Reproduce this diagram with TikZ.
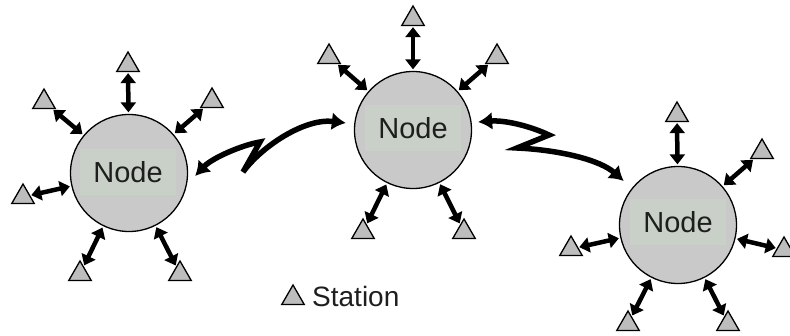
\documentclass[tikz,border=0pt]{standalone}
\usepackage{fontspec}
\setmainfont{Liberation Sans}
\usetikzlibrary{arrows.meta,shapes.geometric}

\definecolor{hubgray}{HTML}{C9C9C9}
\definecolor{labelgray}{HTML}{C8D0C7}
\definecolor{stationgray}{HTML}{BDBDBD}
\definecolor{inkgray}{HTML}{1E1E1E}

\tikzset{
  hub/.style={circle, draw=black, line width=1.3pt, fill=hubgray,
    minimum size=117pt, inner sep=0pt},
  hublabel/.style={fill=labelgray, minimum width=96pt, minimum height=46pt,
    inner sep=0pt, text=inkgray, font=\fontsize{29}{32}\selectfont},
  station/.style={regular polygon, regular polygon sides=3, draw=black,
    line width=1.3pt, fill=stationgray, minimum size=26pt, inner sep=0pt},
  tether/.style={line width=4.5pt,
    {Triangle[length=10pt,width=15pt]}-{Triangle[length=10pt,width=15pt]},
    shorten <=1pt, shorten >=1.5pt},
  radio/.style={line width=5.5pt, line join=miter, miter limit=6,
    {Latex[length=14pt,width=18pt]}-{Latex[length=14pt,width=18pt]}},
  legendtext/.style={text=inkgray, inner sep=0pt,
    font=\fontsize{28}{32}\selectfont},
}

\begin{document}
\begin{tikzpicture}[x=1pt, y=-1pt]
  \useasboundingbox (0,0) rectangle (790,335);

  % the three network nodes
  \node[hub] (L) at (129,173) {};
  \node[hublabel] at (128,172) {Node};
  \node[hub] (M) at (413,130) {};
  \node[hublabel] at (413,128) {Node};
  \node[hub] (R) at (678,225) {};
  \node[hublabel] at (678,222) {Node};

  % stations around the left node
  \node[station] (l1) at (128,65) {};
  \node[station] (l2) at (44,102) {};
  \node[station] (l3) at (212,101) {};
  \node[station] (l4) at (23,197) {};
  \node[station] (l5) at (80,274) {};
  \node[station] (l6) at (180,274) {};

  % stations around the middle node
  \node[station] (m1) at (413,19) {};
  \node[station] (m2) at (329,57) {};
  \node[station] (m3) at (497,57) {};
  \node[station] (m4) at (363,232) {};
  \node[station] (m5) at (464,232) {};

  % stations around the right node
  \node[station] (r1) at (677,115) {};
  \node[station] (r2) at (762,152) {};
  \node[station] (r3) at (571,249) {};
  \node[station] (r4) at (784,250) {};
  \node[station] (r5) at (628,324) {};
  \node[station] (r6) at (728,324) {};

  % station links
  \foreach \s in {l1,l2,l3,l4,l5,l6} \draw[tether] (\s) -- (L);
  \foreach \s in {m1,m2,m3,m4,m5} \draw[tether] (\s) -- (M);
  \foreach \s in {r1,r2,r3,r4,r5,r6} \draw[tether] (\s) -- (R);

  % wireless links between nodes
  \draw[radio] ([shift={(7,3)}]L.east)
    .. controls (212,158) and (242,145) .. (260,142)
    -- (243,172)
    .. controls (262,146) and (305,118) .. ([shift={(-8,-7)}]M.west);
  \draw[radio] ([shift={(6,-8)}]M.east)
    .. controls (505,120) and (530,126) .. (549,135)
    -- (517,148)
    .. controls (560,150) and (600,160) .. ([shift={(-9,-6)}]R.140);

  % legend
  \node[station] (key) at (293,298) {};
  \node[legendtext, anchor=west] (keytext) at (312,296) {Station};
\end{tikzpicture}
\end{document}
